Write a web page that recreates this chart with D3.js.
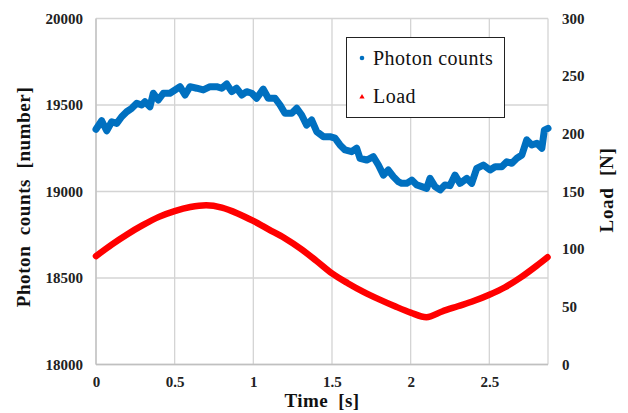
<!DOCTYPE html>
<html><head><meta charset="utf-8">
<script src="https://cdn.jsdelivr.net/npm/d3@7"></script>
<style>body{margin:0;background:#fff}svg{display:block}text{font-family:"Liberation Serif","Times New Roman",serif}</style>
</head><body><svg id="c" width="628" height="413"></svg>
<script>
const photonTime = [0,0.036,0.068,0.100,0.132,0.163,0.195,0.227,0.259,0.290,0.311,0.343,0.364,0.396,0.428,0.470,0.502,0.534,0.566,0.597,0.640,0.682,0.725,0.767,0.799,0.831,0.863,0.894,0.926,
  0.958,0.990,1.021,1.063,1.095,1.138,1.170,1.201,1.244,1.276,1.307,1.339,1.371,1.403,1.445,1.487,1.519,1.551,1.583,1.625,1.657,1.678,1.721,1.763,1.795,1.827,1.858,1.890,
  1.921,1.943,1.975,2.007,2.039,2.071,2.102,2.123,2.155,2.187,2.218,2.250,2.282,2.314,2.357,2.388,2.420,2.462,2.505,2.537,2.579,2.611,2.643,2.675,2.707,2.738,2.770,2.802,2.834,2.850,2.873];
const photonCounts = [19360,19409,19351,19403,19394,19432,19461,19481,19510,19500,19519,19490,19568,19529,19568,19568,19587,19606,19558,19606,19597,19587,19606,19606,19597,19621,19577,19597,19558,
  19577,19568,19539,19592,19539,19539,19500,19452,19452,19481,19442,19384,19413,19346,19317,19317,19308,19269,19240,19230,19250,19192,19182,19201,19153,19095,19124,19086,
  19057,19047,19047,19066,19038,19028,19018,19076,19028,19009,19038,19034,19095,19047,19076,19047,19134,19153,19124,19143,19143,19172,19163,19192,19211,19298,19269,19279,19250,19355,19365];
const loadTime = [0,0.1,0.2,0.3,0.4,0.5,0.6,0.7,0.8,0.9,1.0,1.1,1.2,1.3,1.4,1.5,1.6,1.7,1.8,1.9,2.0,2.1,2.2,2.3,2.4,2.5,2.6,2.7,2.8,2.87];
const loadValues = [94,104,113,121,128,133,136.5,138,136,131,124.5,117,109.5,100.5,90,79,70.5,63,56.5,50.5,45,41,46,50.5,55,60.5,67,75.5,85.5,93];
const xTicks = [0,0.5,1,1.5,2,2.5];
const yLeftTicks = [18000,18500,19000,19500,20000];
const yRightTicks = [0,50,100,150,200,250,300];

const svg = d3.select('#c');
const L=96,R=548,T=18.5,B=364.5;
const x = d3.scaleLinear().domain([0,2.873]).range([L,R]);
const yL = d3.scaleLinear().domain([18000,20000]).range([B,T]);
const yR = d3.scaleLinear().domain([0,300]).range([B,T]);

const grid = svg.append('g').attr('stroke','#d4d4d4').attr('stroke-width',1.3);
xTicks.forEach(t=>grid.append('line').attr('x1',x(t)).attr('x2',x(t)).attr('y1',T).attr('y2',B));
yLeftTicks.forEach(t=>grid.append('line').attr('x1',L).attr('x2',R).attr('y1',yL(t)).attr('y2',yL(t)));
grid.append('line').attr('x1',R).attr('x2',R).attr('y1',T).attr('y2',B);
grid.append('line').attr('x1',L).attr('x2',L).attr('y1',T).attr('y2',B).attr('stroke','#c0c0c0');
grid.append('line').attr('x1',L).attr('x2',R).attr('y1',B).attr('y2',B).attr('stroke','#c0c0c0');

const axL = svg.append('g').attr('transform',`translate(${L-13},0)`)
  .call(d3.axisLeft(yL).tickValues(yLeftTicks).tickSize(0).tickFormat(d3.format('d')));
const axR = svg.append('g').attr('transform',`translate(${R+14},0)`)
  .call(d3.axisRight(yR).tickValues(yRightTicks).tickSize(0).tickFormat(d3.format('d')));
const axB = svg.append('g').attr('transform',`translate(0,${B+9})`)
  .call(d3.axisBottom(x).tickValues(xTicks).tickSize(0).tickFormat(d=>String(d)));
[axL,axR,axB].forEach(a=>{a.select('.domain').remove();a.selectAll('text').attr('font-family','Liberation Serif').attr('font-size',15).attr('font-weight','bold').attr('fill','#222');});
axL.selectAll('text').attr('x',0);
axR.selectAll('text').attr('x',0);

svg.append('path').datum(loadTime.map((t,i)=>[t,loadValues[i]]))
  .attr('fill','none').attr('stroke','#ff0000').attr('stroke-width',6.5).attr('stroke-linejoin','round').attr('stroke-linecap','round')
  .attr('d',d3.line().x(d=>x(d[0])).y(d=>yR(d[1])).curve(d3.curveMonotoneX));
svg.append('path').datum(photonTime.map((t,i)=>[t,photonCounts[i]]))
  .attr('fill','none').attr('stroke','#0070c0').attr('stroke-width',7).attr('stroke-linejoin','round').attr('stroke-linecap','round')
  .attr('d',d3.line().x(d=>x(d[0])).y(d=>yL(d[1])));

svg.append('text').attr('x',322).attr('y',407).attr('text-anchor','middle').attr('font-size',19).attr('font-weight','bold').attr('fill','#111')
  .attr('letter-spacing',0.4).attr('word-spacing',5).text('Time [s]');
svg.append('text').attr('transform','translate(30,197) rotate(-90)').attr('text-anchor','middle').attr('font-size',19).attr('font-weight','bold').attr('fill','#111')
  .attr('letter-spacing',0.6).attr('word-spacing',5).text('Photon counts [number]');
svg.append('text').attr('transform','translate(613,190) rotate(-90)').attr('text-anchor','middle').attr('font-size',19).attr('font-weight','bold').attr('fill','#111')
  .attr('letter-spacing',0.7).attr('word-spacing',6).text('Load [N]');

const lg = svg.append('g');
lg.append('rect').attr('x',346.5).attr('y',37.5).attr('width',158).attr('height',80).attr('fill','#fff').attr('stroke','#222').attr('stroke-width',1);
lg.append('circle').attr('cx',362).attr('cy',58).attr('r',2.3).attr('fill','#0070c0');
lg.append('path').attr('d',d3.symbol(d3.symbolTriangle,12)()).attr('transform','translate(362,97)').attr('fill','#ff0000');
lg.append('text').attr('x',373).attr('y',65).attr('font-size',20).attr('letter-spacing',0.5).attr('fill','#111').text('Photon counts');
lg.append('text').attr('x',373).attr('y',103).attr('font-size',20).attr('letter-spacing',0.5).attr('fill','#111').text('Load');
</script></body></html>
